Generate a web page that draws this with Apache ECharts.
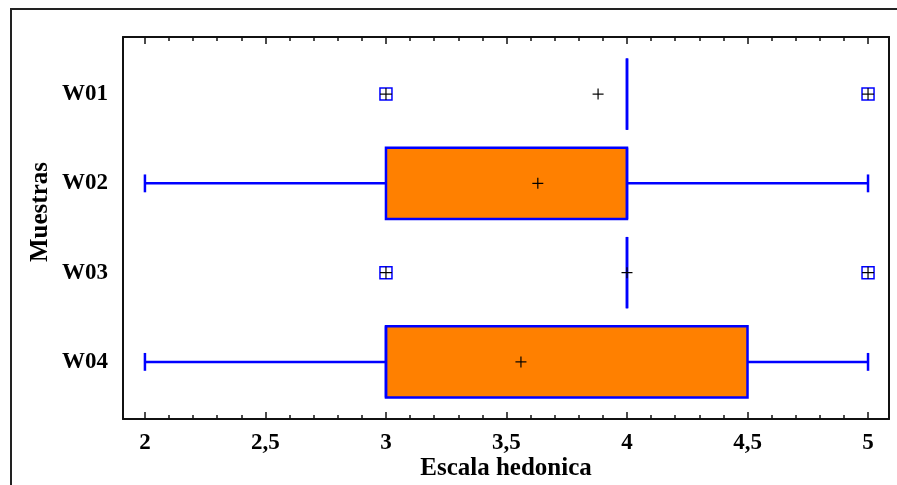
<!DOCTYPE html>
<html>
<head>
<meta charset="utf-8">
<script src="https://cdn.jsdelivr.net/npm/echarts@6/dist/echarts.min.js"></script>
<style>html,body{margin:0;padding:0;background:#fff;}#c{width:897px;height:485px;}</style>
</head>
<body>
<div id="c"></div>
<script>
const categories = ['W01', 'W02', 'W03', 'W04'];
const whiskerLow = [4, 2, 4, 2];
const q1 = [4, 3, 4, 3];
const median = [4, 4, 4, 3];
const q3 = [4, 4, 4, 4.5];
const whiskerHigh = [4, 5, 4, 5];
const means = [3.88, 3.63, 4.0, 3.56];
const outlierCats = ['W01', 'W01', 'W03', 'W03'];
const outlierValues = [3, 5, 3, 5];
const majorTicks = [2, 2.5, 3, 3.5, 4, 4.5, 5];
const minorTicks = [2.1, 2.2, 2.3, 2.4, 2.6, 2.7, 2.8, 2.9, 3.1, 3.2, 3.3, 3.4, 3.6, 3.7, 3.8, 3.9, 4.1, 4.2, 4.3, 4.4, 4.6, 4.7, 4.8, 4.9];
const xTitle = 'Escala hedonica';
const yTitle = 'Muestras';

const FONT = "'Liberation Serif', 'Times New Roman', serif";
const BLUE = '#0000ff';
const ORANGE = '#ff8000';
const catIndex = c => categories.indexOf(c) + 1;

const boxData = categories.map((c, i) => [i + 1, whiskerLow[i], q1[i], median[i], q3[i], whiskerHigh[i]]);
const meanData = categories.map((c, i) => [means[i], i + 1]);
const outlierData = outlierCats.map((c, i) => [outlierValues[i], catIndex(c)]);

const X_MIN = 1.909, X_MAX = 5.087;
function xAxisDef(pos, ticks, len, opts) {
  return Object.assign({
    type: 'value', position: pos, min: X_MIN, max: X_MAX,
    splitLine: { show: false },
    axisLine: { show: false },
    axisTick: { show: true, inside: true, length: len, customValues: ticks, lineStyle: { color: '#111', width: 1.5 } },
    axisLabel: { show: false }
  }, opts || {});
}

const chart = echarts.init(document.getElementById('c'), null, { renderer: 'canvas' });
chart.setOption({
  animation: false,
  backgroundColor: '#fff',
  graphic: [{
    type: 'rect', z: -10, silent: true,
    shape: { x: 11, y: 9, width: 900, height: 500 },
    style: { fill: 'none', stroke: '#222', lineWidth: 2 }
  }, {
    type: 'text', silent: true,
    x: 41, y: 212, rotation: Math.PI / 2,
    style: {
      text: yTitle, fontFamily: FONT, fontWeight: 'bold', fontSize: 25, fill: '#000',
      align: 'center', verticalAlign: 'middle'
    }
  }],
  grid: { left: 123, right: 8, top: 37, bottom: 66, containLabel: false, outerBoundsMode: 'none' },
  xAxis: [
    xAxisDef('bottom', majorTicks, 7, {
      axisLine: { show: true, onZero: false, lineStyle: { color: '#111', width: 2 } },
      axisLabel: {
        show: true, customValues: majorTicks, margin: 13,
        fontFamily: FONT, fontWeight: 'bold', fontSize: 23, color: '#000',
        formatter: v => String(v).replace('.', ',')
      },
      name: xTitle, nameLocation: 'middle', nameGap: 37, nameMoveOverlap: false,
      nameTextStyle: { fontFamily: FONT, fontWeight: 'bold', fontSize: 25, color: '#000' }
    }),
    xAxisDef('bottom', minorTicks, 4),
    xAxisDef('top', majorTicks, 7, {
      axisLine: { show: true, onZero: false, lineStyle: { color: '#111', width: 2 } }
    }),
    xAxisDef('top', minorTicks, 4)
  ],
  yAxis: [{
    type: 'value', inverse: true, min: 0.36, max: 4.64, position: 'left',
    splitLine: { show: false },
    axisLine: { show: true, onZero: false, lineStyle: { color: '#111', width: 2 } },
    axisTick: { show: false },
    axisLabel: {
      customValues: [1, 2, 3, 4], margin: 15,
      fontFamily: FONT, fontWeight: 'bold', fontSize: 23, color: '#000',
      formatter: v => categories[Math.round(v) - 1] || ''
    }
  }, {
    type: 'value', inverse: true, min: 0.36, max: 4.64, position: 'right',
    splitLine: { show: false },
    axisLine: { show: true, onZero: false, lineStyle: { color: '#111', width: 2 } },
    axisTick: { show: false }, axisLabel: { show: false }
  }],
  series: [{
    type: 'custom',
    xAxisIndex: 0, yAxisIndex: 0,
    data: boxData,
    encode: { x: [1, 2, 3, 4, 5], y: 0 },
    renderItem: function (params, api) {
      const yi = api.value(0);
      const lo = api.coord([api.value(1), yi]);
      const b1 = api.coord([api.value(2), yi]);
      const md = api.coord([api.value(3), yi]);
      const b3 = api.coord([api.value(4), yi]);
      const hi = api.coord([api.value(5), yi]);
      const hh = api.size([0, 0.4])[1];
      const ch = api.size([0, 0.1])[1];
      const cy = lo[1];
      const ls = { stroke: BLUE, lineWidth: 2.5 };
      const children = [];
      if (api.value(1) < api.value(2)) {
        children.push({ type: 'line', shape: { x1: lo[0], y1: cy, x2: b1[0], y2: cy }, style: ls });
        children.push({ type: 'line', shape: { x1: lo[0], y1: cy - ch, x2: lo[0], y2: cy + ch }, style: ls });
      }
      if (api.value(5) > api.value(4)) {
        children.push({ type: 'line', shape: { x1: b3[0], y1: cy, x2: hi[0], y2: cy }, style: ls });
        children.push({ type: 'line', shape: { x1: hi[0], y1: cy - ch, x2: hi[0], y2: cy + ch }, style: ls });
      }
      children.push({
        type: 'rect', shape: { x: b1[0], y: cy - hh, width: b3[0] - b1[0], height: 2 * hh },
        style: { fill: ORANGE, stroke: BLUE, lineWidth: 2.5 }
      });
      children.push({ type: 'line', shape: { x1: md[0], y1: cy - hh, x2: md[0], y2: cy + hh }, style: ls });
      return { type: 'group', children: children };
    }
  }, {
    type: 'custom',
    xAxisIndex: 0, yAxisIndex: 0, z: 5,
    data: meanData,
    encode: { x: 0, y: 1 },
    renderItem: function (params, api) {
      const p = api.coord([api.value(0), api.value(1)]);
      const s = 5.5;
      const st = { stroke: '#000', lineWidth: 1.2 };
      return { type: 'group', children: [
        { type: 'line', shape: { x1: p[0] - s, y1: p[1], x2: p[0] + s, y2: p[1] }, style: st },
        { type: 'line', shape: { x1: p[0], y1: p[1] - s, x2: p[0], y2: p[1] + s }, style: st }
      ] };
    }
  }, {
    type: 'custom',
    xAxisIndex: 0, yAxisIndex: 0, z: 6,
    data: outlierData,
    encode: { x: 0, y: 1 },
    renderItem: function (params, api) {
      const p = api.coord([api.value(0), api.value(1)]);
      const s = 6;
      const st = { stroke: '#000', lineWidth: 1.2 };
      return { type: 'group', children: [
        { type: 'rect', shape: { x: p[0] - s, y: p[1] - s, width: 2 * s, height: 2 * s }, style: { fill: '#fff', stroke: BLUE, lineWidth: 1.5 } },
        { type: 'line', shape: { x1: p[0] - s, y1: p[1], x2: p[0] + s, y2: p[1] }, style: st },
        { type: 'line', shape: { x1: p[0], y1: p[1] - s, x2: p[0], y2: p[1] + s }, style: st }
      ] };
    }
  }]
});
</script>
</body>
</html>
